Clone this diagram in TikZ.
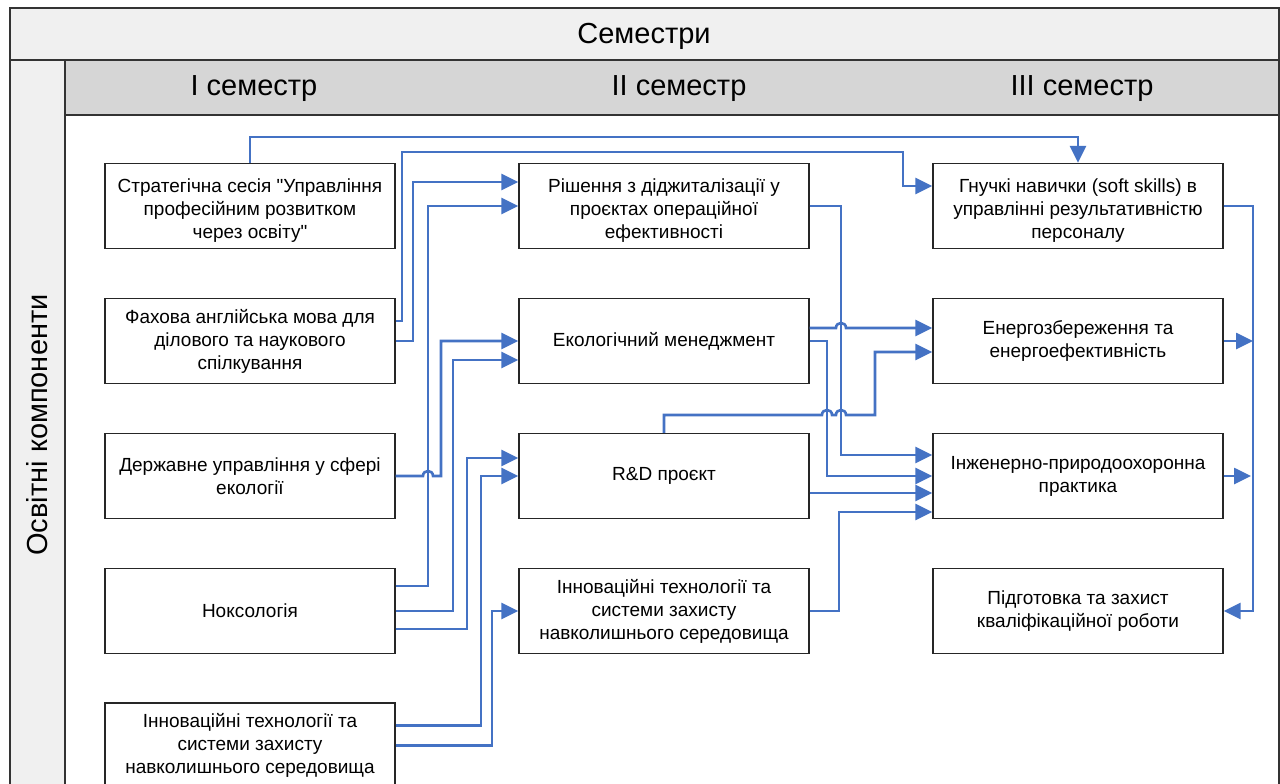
\documentclass[tikz,border=0pt]{standalone}
\usepackage{fontspec}
\setmainfont{Liberation Sans}[Ligatures=TeXOff]
\usetikzlibrary{arrows.meta,calc}
\definecolor{conblue}{HTML}{4472C4}
\definecolor{hdrlight}{HTML}{F0F0F0}
\definecolor{hdrdark}{HTML}{D6D6D6}
\newcommand{\liftline}{\rule{0pt}{23pt}}
\begin{document}
\begin{tikzpicture}[x=1pt,y=-1pt,
  frame/.style={draw=black!80,line width=1.3pt},
  hdrtext/.style={font=\fontsize{29}{32}\selectfont,inner sep=0pt},
  box/.style={draw=black!85,line width=1.4pt,fill=white,minimum width=290pt,minimum height=85pt,inner sep=0pt,align=center,font=\fontsize{19}{23}\selectfont},
  conn/.style={draw=conblue,line width=2.6pt,-{Triangle[length=17pt,width=16pt]}},
]
\useasboundingbox (0,0) rectangle (1280,784);
\fill[white] (0,0) rectangle (1280,784);
\clip (0,0) rectangle (1280,784);
% frame
\draw[frame,fill=hdrlight] (10,8) rectangle (1279,60);
\draw[frame,fill=hdrlight] (10,60) rectangle (65,792);
\draw[frame,fill=hdrdark] (65,60) rectangle (1279,115);
\draw[frame] (65,115) rectangle (1279,792);
\node[hdrtext] (hdr) at (644,36) {Семестри};
\node[hdrtext,rotate=90] (oc) at (37,425) {Освітні компоненти};
\node[hdrtext] (s1) at (254,89) {I семестр};
\node[hdrtext] (s2) at (679,89) {II семестр};
\node[hdrtext] (s3) at (1082,89) {III семестр};
% column 1
\node[box] (a1) at (250,206) {\liftline Стратегічна сесія "Управління\\професійним розвитком\\через освіту"};
\node[box] (a2) at (250,341) {Фахова англійська мова для\\ділового та наукового\\спілкування};
\node[box] (a3) at (250,476) {Державне управління у сфері\\екології};
\node[box] (a4) at (250,611) {Ноксологія};
\node[box] (a5) at (250,745.5) {Інноваційні технології та\\системи захисту\\навколишнього середовища};
% column 2
\node[box] (b1) at (664,206) {\liftline Рішення з діджиталізації у\\проєктах операційної\\ефективності};
\node[box] (b2) at (664,341) {Екологічний менеджмент};
\node[box] (b3) at (664,476) {R\&D проєкт};
\node[box] (b4) at (664,611) {Інноваційні технології та\\системи захисту\\навколишнього середовища};
% column 3
\node[box] (c1) at (1078,206) {\liftline Гнучкі навички (soft skills) в\\управлінні результативністю\\персоналу};
\node[box] (c2) at (1078,341) {Енергозбереження та\\енергоефективність};
\node[box] (c3) at (1078,476) {Інженерно-природоохоронна\\практика};
\node[box] (c4) at (1078,611) {Підготовка та захист\\кваліфікаційної роботи};
% connectors column 1 -> others
\draw[conn] (a1.north) -- (a1.north |- 0,137) -| (c1.north);
\draw[conn] ($(a2.east)+(0,-20)$) -| (402,152) -| (903,186) -- (c1.west |- 0,186);
\draw[conn] (a2.east) -| (413,182) -- (b1.west |- 0,182);
\draw[conn] ($(a4.east)+(0,-25)$) -| (428,206) -- (b1.west);
\draw[conn] (a3.east) -- (423,476) .. controls (423,469.3) and (433,469.3) .. (433,476) -| (441,341) -- (b2.west);
\draw[conn] (a4.east) -| (453,360) -- (b2.west |- 0,360);
\draw[conn] ($(a4.east)+(0,18)$) -| (467,458) -- (b3.west |- 0,458);
\draw[conn] ($(a5.east)+(0,-20)$) -| (481,476) -- (b3.west);
\draw[conn] (a5.east) -| (492,611) -- (b4.west);
% column 2 -> column 3
\draw[conn] (b1.east) -| (841,455) -- (c3.west |- 0,455);
\draw[conn] ($(b2.east)+(0,-13)$) -- (836,328) .. controls (836,321.3) and (846,321.3) .. (846,328) -- (c2.west |- 0,328);
\draw[conn] (b2.east) -| (827,476) -- (c3.west);
\draw[conn] (b3.north) -- (b3.north |- 0,415) -- (822,415) .. controls (822,408.3) and (832,408.3) .. (832,415) -- (836,415) .. controls (836,408.3) and (846,408.3) .. (846,415) -| (875,352) -- (c2.west |- 0,352);
\draw[conn] ($(b3.east)+(0,17)$) -- ($(c3.west)+(0,17)$);
\draw[conn] (b4.east) -| (839,512) -- (c3.west |- 0,512);
% column 3 bus
\draw[conn] (c1.east) -| (1253,611) -- (c4.east);
\draw[conn] (c2.east) -- (1253,341);
\draw[conn] (c3.east) -- (1251,476);
\end{tikzpicture}
\end{document}
